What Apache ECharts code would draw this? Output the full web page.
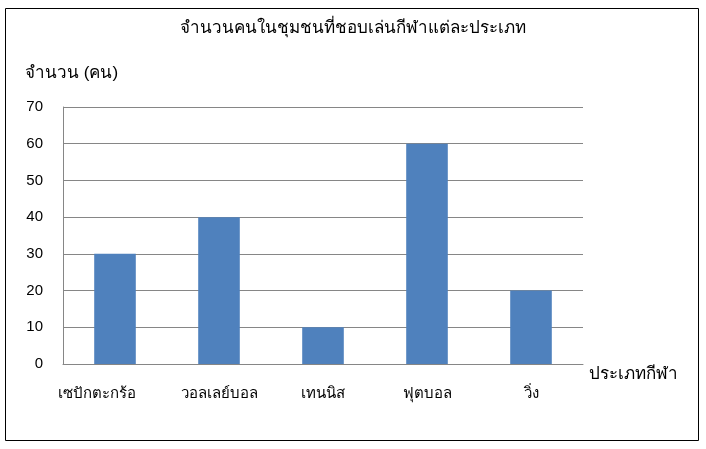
<!DOCTYPE html>
<html><head><meta charset="utf-8">
<script src="https://cdn.jsdelivr.net/npm/echarts@6/dist/echarts.min.js"></script>
<style>html,body{margin:0;padding:0;background:#fff}#c{width:706px;height:449px}</style>
</head><body><div id="c"></div>
<script>
const title = 'จำนวนคนในชุมชนที่ชอบเล่นกีฬาแต่ละประเภท';
const yName = 'จำนวน (คน)';
const xName = 'ประเภทกีฬา';
const categories = ['เซปักตะกร้อ', 'วอลเลย์บอล', 'เทนนิส', 'ฟุตบอล', 'วิ่ง'];
const values = [30, 40, 10, 60, 20];

const chart = echarts.init(document.getElementById('c'));
const font = 'sans-serif';
chart.setOption({
  animation: false,
  textStyle: { fontFamily: font },
  graphic: [{
    type: 'rect', shape: { x: 5.5, y: 8.5, width: 693, height: 432 },
    style: { fill: 'none', stroke: '#000', lineWidth: 1 }, silent: true
  }],
  title: {
    text: title, left: 'center', top: 15,
    textStyle: { fontSize: 17, fontWeight: 'normal', color: '#000', fontFamily: font }
  },
  grid: { left: 63, right: 123, top: 107, bottom: 85 },
  xAxis: {
    type: 'category', data: categories,
    name: xName, nameLocation: 'end', nameGap: 6,
    nameTextStyle: { fontSize: 17, color: '#000', verticalAlign: 'top', padding: [2, 0, 0, 0] },
    axisLine: { lineStyle: { color: '#868686' } },
    axisTick: { show: false },
    axisLabel: {
      interval: 0, hideOverlap: false,
      fontSize: 15, color: '#000', margin: 22,
      formatter: (v, i) => i === 0 ? '{first|' + v + '}' : v,
      rich: { first: { fontSize: 15, color: '#000', padding: [0, 36, 0, 0] } }
    }
  },
  yAxis: {
    type: 'value', min: 0, max: 70, interval: 10,
    name: yName, nameLocation: 'end', nameGap: 25,
    nameTextStyle: { fontSize: 17, color: '#000', align: 'left', padding: [0, 0, 0, -38] },
    axisLine: { show: true, lineStyle: { color: '#868686' } },
    axisTick: { show: false },
    axisLabel: { fontSize: 15, color: '#000', margin: 20 },
    splitLine: { lineStyle: { color: '#868686' } }
  },
  series: [{
    type: 'bar', data: values, barWidth: '40%',
    itemStyle: { color: '#4F81BD' }
  }]
});
</script></body></html>
